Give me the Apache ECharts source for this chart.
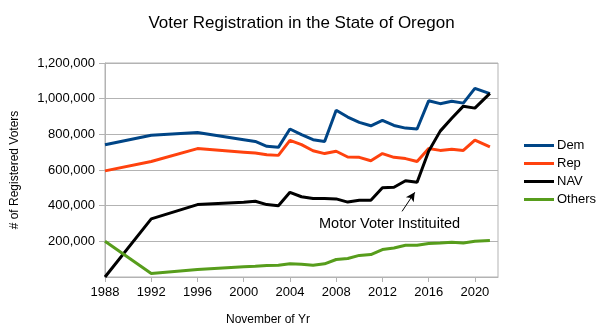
<!DOCTYPE html>
<html>
<head>
<meta charset="utf-8">
<script src="https://cdn.jsdelivr.net/npm/echarts@6/dist/echarts.min.js"></script>
<style>html,body{margin:0;padding:0;background:#fff;}#c{width:603px;height:335px;}</style>
</head>
<body>
<div id="c"></div>
<script>
var years = [1988,1992,1996,2000,2001,2002,2003,2004,2005,2006,2007,2008,2009,2010,2011,2012,2013,2014,2015,2016,2017,2018,2019,2020,2021.3];
var dem = [742000,795000,810000,770000,760000,733000,727000,830000,798000,770000,760000,935000,897000,867000,848000,878000,850000,835000,830000,988000,972000,985000,975000,1058000,1028000];
var rep = [595000,648000,720000,700000,695000,686000,682000,766000,742000,708000,692000,705000,673000,671000,652000,692000,671000,664000,648000,720000,710000,716000,710000,768000,730000];
var nav = [0,326000,406000,419000,425000,406000,400000,475000,450000,440000,440000,438000,420000,430000,430000,500000,503000,540000,531000,705000,818000,890000,958000,947000,1030000];
var others = [200000,20000,42000,57000,60000,64000,66000,74000,71000,66000,74000,98000,104000,121000,126000,154000,163000,178000,178000,188000,191000,195000,191000,200000,204000];
var seriesNames = ['Dem','Rep','NAV','Others'];
var annotationText = 'Motor Voter Instituited';
var arrowFrom = [2013.7, 368000];
var arrowTo = [2014.8, 475000];

function pairs(v){ return years.map(function(y,i){ return [y, v[i]]; }); }

var FONT = 'Liberation Sans';
var chart = echarts.init(document.getElementById('c'), null, {renderer:'canvas'});
var lineCommon = {type:'line', symbol:'none', smooth:false, animation:false};
chart.setOption({
  animation:false,
  backgroundColor:'#fff',
  title:{text:'Voter Registration in the State of Oregon', left:'center', top:10,
    textStyle:{fontFamily:FONT, fontSize:17, fontWeight:'normal', color:'#000'}},
  grid:{left:105, right:105, top:63, bottom:58, show:true, borderColor:'#b3b3b3', borderWidth:1},
  legend:{orient:'vertical', left:519, top:134, icon:'rect', itemWidth:30, itemHeight:3, itemGap:5,
    textStyle:{fontFamily:FONT, fontSize:13, color:'#000', padding:[0,0,0,-2]},
    data:seriesNames},
  xAxis:{type:'value', min:1988, max:2022, interval:4,
    name:'November of Yr', nameLocation:'middle', nameGap:37,
    nameTextStyle:{fontFamily:FONT, fontSize:12, color:'#000', padding:[0,67,0,0]},
    axisLine:{show:true, lineStyle:{color:'#b3b3b3'}},
    axisTick:{show:true, length:5, lineStyle:{color:'#b3b3b3'}},
    axisLabel:{fontFamily:FONT, fontSize:13, color:'#000', margin:9, showMaxLabel:false,
      formatter:function(v){ return String(v); }},
    splitLine:{show:false}},
  yAxis:{type:'value', min:0, max:1200000, interval:200000,
    name:'# of Registered Voters', nameLocation:'middle', nameGap:84, nameRotate:90,
    nameTextStyle:{fontFamily:FONT, fontSize:12, color:'#000'},
    axisLine:{show:true, lineStyle:{color:'#b3b3b3'}},
    axisTick:{show:true, length:6, lineStyle:{color:'#b3b3b3'}},
    axisLabel:{fontFamily:FONT, fontSize:13, color:'#000', margin:10, showMinLabel:false,
      formatter:function(v){ return v.toLocaleString('en-US'); }},
    splitLine:{show:true, lineStyle:{color:'#b3b3b3', width:1}}},
  series:[
    Object.assign({name:'Dem', data:pairs(dem), color:'#004586', lineStyle:{width:3, color:'#004586'}}, lineCommon),
    Object.assign({name:'Rep', data:pairs(rep), color:'#ff420e', lineStyle:{width:3, color:'#ff420e'}}, lineCommon),
    Object.assign({name:'NAV', data:pairs(nav), color:'#000000', lineStyle:{width:3, color:'#000000'},
      markLine:{silent:true, symbol:['none','arrow'], symbolSize:[7,9], animation:false,
        label:{show:false}, lineStyle:{color:'#000', width:1, type:'solid'},
        data:[[{coord:arrowFrom},{coord:arrowTo}]]}}, lineCommon),
    Object.assign({name:'Others', data:pairs(others), color:'#579d1c', lineStyle:{width:3, color:'#579d1c'}}, lineCommon)
  ],
  graphic:[{type:'text', left:319, top:216, silent:true,
    style:{text:annotationText, fontFamily:FONT, fontSize:14.5, fill:'#000'}}]
});
</script>
</body>
</html>
